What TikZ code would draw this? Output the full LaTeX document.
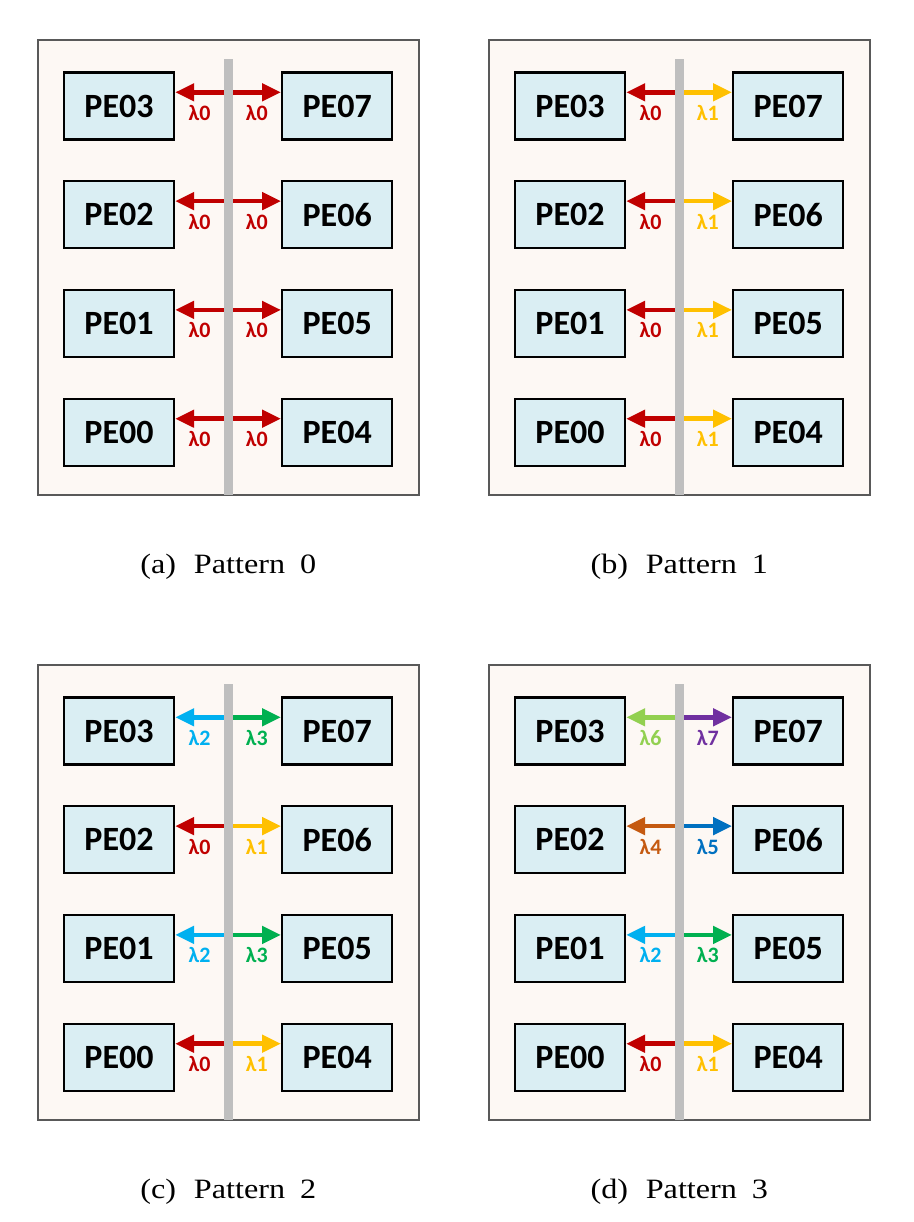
\documentclass[tikz,border=0pt]{standalone}
\usepackage{fontspec}
\setmainfont{Liberation Serif}
\newfontfamily\peFont{Carlito}
\usetikzlibrary{arrows.meta}

\definecolor{peBlue}{HTML}{DAEEF3}
\definecolor{panelBg}{HTML}{FDF8F4}
\definecolor{panelLine}{HTML}{595959}
\definecolor{barGray}{HTML}{BFBFBF}
\definecolor{lamRed}{HTML}{C00000}
\definecolor{lamYellow}{HTML}{FFC000}
\definecolor{lamCyan}{HTML}{00B0F0}
\definecolor{lamGreen}{HTML}{00B050}
\definecolor{lamLime}{HTML}{92D050}
\definecolor{lamPurple}{HTML}{7030A0}
\definecolor{lamOrange}{HTML}{C55A11}
\definecolor{lamBlue}{HTML}{0070C0}

\newcommand{\LeftX}{119}
\newcommand{\RightX}{337.2}
\newcommand{\BarX}{228.3}
\newcommand{\RowY}{106}
\newcommand{\RowD}{108.8}
\newcommand{\LinkUp}{13.7}

\tikzset{
  pe/.style={draw=black, line width=1.15pt, fill=peBlue, minimum width=55pt, minimum height=33.5pt,
    inner sep=0pt, font=\peFont\bfseries\fontsize{17}{17}\selectfont},
  panel/.style={draw=panelLine, line width=0.7pt, fill=panelBg},
  wall/.style={fill=barGray, draw=none},
  link/.style={line width=2.3pt, -{Triangle[length=9.5pt,width=8.5pt]}},
  lbl/.style={font=\peFont\bfseries\fontsize{11}{11}\selectfont, inner sep=0pt},
  caption/.style={font=\fontsize{14}{14}\selectfont, inner sep=0pt}
}

\newcommand{\drawPanel}[2]{
    \draw[panel] (38,40) rectangle (419,495);
    \node[caption] (#1-cap) at (\BarX,567) {\scalebox{1.15}[1]{(#1)\hspace{7.7pt}Pattern\hspace{6.5pt}#2}};
}
\newcommand{\drawRow}[6]{
    \pgfmathtruncatemacro{\Lnum}{3-#2}
    \pgfmathtruncatemacro{\Rnum}{7-#2}
    \node[pe] (#1-PE0\Lnum) at (\LeftX,\RowY+#2*\RowD) {PE0\Lnum};
    \node[pe] (#1-PE0\Rnum) at (\RightX,\RowY+#2*\RowD) {PE0\Rnum};
    \coordinate (#1-mid\Lnum) at (\BarX,\RowY+#2*\RowD-\LinkUp);
    \draw[link, #3] (#1-mid\Lnum) -- (#1-mid\Lnum -| #1-PE0\Lnum.east)
        node[lbl, pos=0.54, yshift=-10.2pt] {λ#4};
    \draw[link, #5] (#1-mid\Lnum) -- (#1-mid\Lnum -| #1-PE0\Rnum.west)
        node[lbl, pos=0.54, yshift=-10.2pt] {λ#6};
}
\newcommand{\drawWall}{
    \fill[wall] (\BarX-4.3,59) rectangle (\BarX+4.3,495);
}

\begin{document}
\begin{tikzpicture}[x=0.5pt, y=-0.5pt]
    \useasboundingbox (0,0) rectangle (914,1222);

    % (a) all on lambda 0
    \begin{scope}
        \drawPanel{a}{0}
        \foreach \i in {0,...,3}{
            \drawRow{a}{\i}{lamRed}{0}{lamRed}{0}
        }
        \drawWall
    \end{scope}

    % (b)
    \begin{scope}[shift={(451,0)}]
        \drawPanel{b}{1}
        \foreach \i in {0,...,3}{
            \drawRow{b}{\i}{lamRed}{0}{lamYellow}{1}
        }
        \drawWall
    \end{scope}

    % (c)
    \begin{scope}[shift={(0,625)}]
        \drawPanel{c}{2}
        \foreach \i/\lc/\ll/\rc/\rl in {0/lamCyan/2/lamGreen/3, 1/lamRed/0/lamYellow/1,
                                       2/lamCyan/2/lamGreen/3, 3/lamRed/0/lamYellow/1}{
            \drawRow{c}{\i}{\lc}{\ll}{\rc}{\rl}
        }
        \drawWall
    \end{scope}

    % (d)
    \begin{scope}[shift={(451,625)}]
        \drawPanel{d}{3}
        \foreach \i/\lc/\ll/\rc/\rl in {0/lamLime/6/lamPurple/7, 1/lamOrange/4/lamBlue/5,
                                       2/lamCyan/2/lamGreen/3, 3/lamRed/0/lamYellow/1}{
            \drawRow{d}{\i}{\lc}{\ll}{\rc}{\rl}
        }
        \drawWall
    \end{scope}
\end{tikzpicture}
\end{document}
